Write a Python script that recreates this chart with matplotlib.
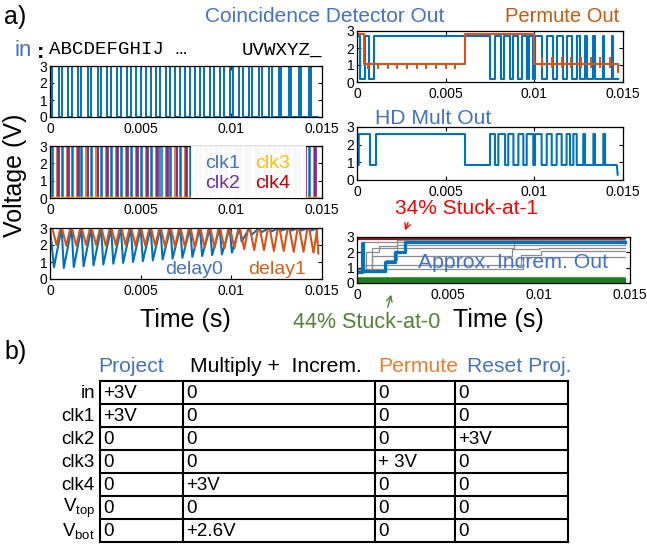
import matplotlib
matplotlib.use('Agg')
import matplotlib.pyplot as plt
from matplotlib.patches import Rectangle

plt.rcParams['font.family'] = ['Liberation Sans', 'DejaVu Sans']

W, H = 647, 544

# ---- data (time in s, voltage in V) ----
# start of each character cycle ("in" pulse rises), 27 chars A..Z + space
cycle_t = [0.00010, 0.00064, 0.00119, 0.00173, 0.00228, 0.00282, 0.00337,
           0.00391, 0.00446, 0.00500, 0.00555, 0.00609, 0.00664, 0.00718,
           0.00773, 0.00827, 0.00882, 0.00936, 0.00991, 0.01045, 0.01100,
           0.01154, 0.01209, 0.01263, 0.01318, 0.01372, 0.01427]
in_width = [0.00040, 0.00038, 0.00037, 0.00036, 0.00035, 0.00034, 0.00033,
            0.00032, 0.00031, 0.00030, 0.00029, 0.00028, 0.00027, 0.00026,
            0.00025, 0.00024, 0.00022, 0.00021, 0.00019, 0.00017, 0.00016,
            0.00015, 0.00014, 0.00013, 0.00012, 0.00012, 0.00012]

# clock pulses inside each cycle: offset from cycle start, width
clk1_pulse = (0.0, 0.00006)
clk4_pulse = (0.00028, 0.00006)
clk2_dip = (0.00034, 0.00005)
clk_box = (0.0078, 0.0141)

# delay lines: minimum voltage reached in each cycle
delay0_min = [0.70, 0.65, 0.70, 0.75, 0.80, 0.85, 0.90, 0.95, 1.00, 1.05,
              1.10, 1.15, 1.20, 1.25, 1.30, 1.35, 1.40, 1.45, 1.55, 2.20,
              2.60, 2.75, 2.80, 2.85, 2.85, 2.85, 2.85]
delay1_min = [2.00, 1.95, 1.95, 2.00, 2.00, 1.95, 2.00, 2.00, 1.95, 1.95,
              1.95, 1.90, 1.90, 1.90, 1.85, 1.85, 1.85, 1.80, 1.80, 1.75,
              1.70, 1.70, 1.65, 1.65, 1.60, 1.60, 1.55]

# coincidence detector out (high intervals)
cd_on = [0.0, 0.00045, 0.00096, 0.0078, 0.0083, 0.0088, 0.0093, 0.0097,
         0.01004, 0.0107, 0.01126, 0.01182, 0.01239, 0.01286, 0.01333,
         0.01389, 0.01436]
cd_off = [0.00017, 0.0007, 0.0075, 0.0081, 0.0086, 0.0091, 0.0096, 0.0099,
          0.01041, 0.01104, 0.01164, 0.01211, 0.01258, 0.01299, 0.01342,
          0.01395, 0.01442]
cd_lo, cd_hi = 0.2, 2.7

# permute out
perm_t = [0.0, 0.0004, 0.0061, 0.0100, 0.0147]
perm_v = [2.8, 1.05, 2.8, 1.05, 1.05]
perm_spk1 = [0.00064, 0.00119, 0.00173, 0.00228, 0.00282, 0.00337, 0.00391,
             0.00446, 0.00500, 0.00555]
perm_spk2 = [0.01045, 0.01100, 0.01154, 0.01209, 0.01263, 0.01318, 0.01372,
             0.01427]

# HD mult out (high intervals)
hd_on = [0.0001, 0.00107, 0.0075, 0.00797, 0.00853, 0.0091, 0.00957,
         0.01004, 0.0107, 0.01126, 0.01182, 0.0122, 0.01276, 0.01333, 0.01389]
hd_off = [0.00073, 0.00609, 0.00778, 0.00835, 0.00882, 0.00938, 0.00994,
          0.01041, 0.01098, 0.01154, 0.01201, 0.01239, 0.01286, 0.01342,
          0.01399]
hd_lo, hd_hi = 0.85, 2.6

# approximate incrementer out
apx_t = [0.0, 0.00028, 0.00035, 0.00155, 0.0021, 0.00265, 0.0147]
apx_v = [0.7, 2.6, 0.8, 1.4, 2.0, 2.65, 2.65]
gray_t = [[0, 0.0003, 0.0092, 0.0147],
          [0, 0.0008, 0.0086, 0.0147],
          [0, 0.0008, 0.0085, 0.0100, 0.0147],
          [0, 0.0003, 0.0090, 0.0101, 0.0147],
          [0, 0.0002, 0.0091, 0.0147],
          [0, 0.0016, 0.0022, 0.0147],
          [0, 0.0005, 0.0012, 0.0022, 0.0147]]
gray_v = [[0.9, 2.7, 2.75, 2.75],
          [0.8, 2.3, 2.8, 2.8],
          [0.85, 1.75, 2.2, 2.3, 2.3],
          [0.75, 1.2, 1.85, 2.1, 2.1],
          [0.8, 0.9, 1.7, 1.7],
          [0.7, 1.5, 2.5, 2.6],
          [0.8, 2.0, 2.4, 2.8, 2.85]]
stuck0_v = [0.03, 0.07, 0.11, 0.15, 0.19, 0.23, 0.27, 0.31, 0.35]
stuck1_v = [2.85, 2.89, 2.93, 2.97]

# table
row_names = ['in', 'clk1', 'clk2', 'clk3', 'clk4',
             r'V$_{\mathregular{top}}$', r'V$_{\mathregular{bot}}$']
col_heads = ['Project', 'Multiply +  Increm.', 'Permute', 'Reset Proj.']
col_project = ['+3V', '+3V', '0', '0', '0', '0', '0']
col_multiply = ['0', '0', '0', '0', '+3V', '0', '+2.6V']
col_permute = ['0', '0', '0', '+ 3V', '0', '0', '0']
col_reset = ['0', '0', '+3V', '0', '0', '0', '0']

BLUE = '#0072BD'
ORANGE = '#D95319'
YELLOW = '#EDB120'
PURPLE = '#7E2F8E'
TBLUE = '#4472C4'


def pulse_train(on, off, lo, hi, t_end):
    t, v = [0.0], [lo]
    for a, b in zip(on, off):
        t += [a, a, b, b]
        v += [lo, hi, hi, lo]
    t.append(t_end)
    v.append(lo)
    return t, v


def add_ax(l, t, r, b):
    return fig.add_axes([l / W, 1 - b / H, (r - l) / W, (b - t) / H])


def style(ax):
    ax.set_xlim(0, 0.015)
    ax.set_ylim(0, 3)
    ax.set_xticks([0, 0.005, 0.01, 0.015])
    ax.set_xticklabels(['0', '0.005', '0.01', '0.015'])
    ax.set_yticks([0, 1, 2, 3])
    ax.tick_params(direction='in', length=3, width=0.8, top=True, right=True,
                   labelsize=10)
    ax.tick_params(axis='x', pad=3.5)
    ax.tick_params(axis='y', pad=2)
    for s in ax.spines.values():
        s.set_linewidth(0.9)


fig = plt.figure(figsize=(W / 100, H / 100), dpi=100)

# ---- in ----
ax1 = add_ax(50, 66, 322, 117)
t, v = pulse_train(cycle_t, [c + w for c, w in zip(cycle_t, in_width)], 0, 3, 0.0148)
ax1.plot(t, v, color=BLUE, lw=1.4)
style(ax1)

# ---- clocks ----
ax2 = add_ax(50, 146, 322, 198)
t, v = pulse_train([c + clk1_pulse[0] for c in cycle_t],
                   [c + clk1_pulse[0] + clk1_pulse[1] for c in cycle_t], 0, 3, 0.0148)
ax2.plot(t, v, color=BLUE, lw=1.1)
t, v = pulse_train([c + clk4_pulse[0] for c in cycle_t],
                   [c + clk4_pulse[0] + clk4_pulse[1] for c in cycle_t], 0, 3, 0.0148)
ax2.plot(t, v, color=ORANGE, lw=1.1)
t, v = pulse_train([c + clk2_dip[0] for c in cycle_t],
                   [c + clk2_dip[0] + clk2_dip[1] for c in cycle_t], 3, 0, 0.0146)
ax2.plot(t + [0.0146], v + [0], color=PURPLE, lw=1.3)
ax2.plot([0, 0.0148], [0, 0], color=YELLOW, lw=2.5)
ax2.add_patch(Rectangle((clk_box[0], 0), clk_box[1] - clk_box[0], 3.02,
                        facecolor='white', edgecolor='none', alpha=0.96, zorder=5))
style(ax2)

# ---- delay lines ----
ax3 = add_ax(50, 228, 322, 279)
t0, v0 = [0.0], [3.0]
t1, v1 = [0.0], [3.0]
ends = cycle_t[1:] + [0.0148]
for c, e, m0, m1 in zip(cycle_t, ends, delay0_min, delay1_min):
    t0 += [c + 0.00012, e]
    v0 += [m0, 3.0]
    t1 += [c + 0.00002, c + 0.00026, c + 0.00048]
    v1 += [3.0, m1, 3.0]
t1 += [0.0147, 0.0148]
v1 += [3.0, 1.5]
ax3.plot(t0, v0, color=BLUE, lw=1.5)
ax3.plot(t1, v1, color=ORANGE, lw=1.5)
style(ax3)

# ---- coincidence detector / permute ----
ax4 = add_ax(357, 31, 623, 82)
t, v = pulse_train(cd_on, cd_off, cd_lo, cd_hi, 0.0147)
ax4.plot(t, v, color=BLUE, lw=1.5)
ax4.step(perm_t + [0.0147], perm_v + [0.6], where='post', color=ORANGE, lw=1.5)
ax4.vlines(perm_spk1, 0.75, 1.05, color=ORANGE, lw=1.4)
ax4.vlines(perm_spk2, 0.8, 1.45, color=ORANGE, lw=1.4)
style(ax4)

# ---- HD mult ----
ax5 = add_ax(357, 127, 623, 180)
t, v = pulse_train(hd_on, hd_off, hd_lo, hd_hi, 0.01465)
ax5.plot(t + [0.0147], v + [0.3], color=BLUE, lw=1.5)
style(ax5)

# ---- approx incrementer ----
ax6 = add_ax(357, 237, 630, 283)
ax6.fill_between([0, 0.0147], 0, 0.37, color='#4fa84f', lw=0)
for y in stuck0_v:
    ax6.plot([0, 0.0147], [y, y], color='#1e7b1e', lw=0.8)
ax6.fill_between([0, 0.0147], 2.83, 3.0, color='#b05050', lw=0)
for y in stuck1_v:
    ax6.plot([0, 0.0147], [y, y], color='#8b1a1a', lw=0.8)
for gt, gv in zip(gray_t, gray_v):
    ax6.step(gt, gv, where='post', color='#8c8c8c', lw=0.9)
ax6.step(apx_t, apx_v, where='post', color=BLUE, lw=2.3)
style(ax6)

# ---- overlay for free text and the table (pixel coordinates) ----
ov = fig.add_axes([0, 0, 1, 1])
ov.set_xlim(0, W)
ov.set_ylim(H, 0)
ov.axis('off')

ov.text(4, 17, 'a)', fontsize=18, va='center')
ov.text(205, 16, 'Coincidence Detector Out', fontsize=15, color=TBLUE, va='center')
ov.text(505, 16, 'Permute Out', fontsize=14.5, color='#C55A11', va='center')
ov.text(15, 50, 'in', fontsize=16, color=TBLUE, va='center')
ov.text(37, 52, ':', fontsize=16, fontweight='bold', va='center')
ov.text(49, 50, 'ABCDEFGHIJ …', fontsize=13.8, va='center',
        family=['Liberation Mono', 'DejaVu Sans Mono'])
ov.text(242, 50, 'UVWXYZ_', fontsize=13.8, va='center',
        family=['Liberation Mono', 'DejaVu Sans Mono'])
ov.text(15, 175, 'Voltage (V)', fontsize=18, rotation=90, ha='center', va='center')
ov.text(185, 320, 'Time (s)', fontsize=18, ha='center', va='center')
ov.text(498, 320, 'Time (s)', fontsize=18, ha='center', va='center')
ov.text(205, 163, 'clk1', fontsize=14, color=TBLUE, va='center')
ov.text(255, 163, 'clk3', fontsize=14, color='#FFC000', va='center')
ov.text(205, 183, 'clk2', fontsize=14, color='#7030A0', va='center')
ov.text(255, 183, 'clk4', fontsize=14, color='#C00000', va='center')
ov.text(165, 269, 'delay0', fontsize=14, color=TBLUE, va='center')
ov.text(248, 269, 'delay1', fontsize=14, color='#D0631F', va='center')
ov.text(375, 118, 'HD Mult Out', fontsize=15.2, color=TBLUE, va='center')
ov.text(395, 209, '34% Stuck-at-1', fontsize=15, color='#FF0000', va='center')
ov.annotate('', xy=(404, 233), xytext=(409, 220),
            arrowprops=dict(arrowstyle='->', color='#FF0000', lw=1))
ov.text(418, 262, 'Approx. Increm. Out', fontsize=15.3, color=TBLUE, va='center')
ov.text(293, 322, '44% Stuck-at-0', fontsize=15.5, color='#548235', va='center')
ov.annotate('', xy=(392, 292), xytext=(387, 310),
            arrowprops=dict(arrowstyle='->', color='#548235', lw=1))

# ---- table ----
ov.text(4, 352, 'b)', fontsize=18, va='center')
col_x = [100, 183, 375, 455, 568]
head_x = [98, 190, 378, 467]
head_c = [TBLUE, 'black', '#ED7D31', TBLUE]
for hx, name, c in zip(head_x, col_heads, head_c):
    ov.text(hx, 366, name, fontsize=15.2, color=c, va='center')
top, rh = 381, 23
n = len(row_names)
for i in range(n + 1):
    ov.plot([col_x[0], col_x[-1]], [top + i * rh] * 2, color='black', lw=1.5,
            solid_capstyle='projecting')
for x in col_x:
    ov.plot([x, x], [top, top + n * rh], color='black', lw=1.5,
            solid_capstyle='projecting')
cols = [col_project, col_multiply, col_permute, col_reset]
for i, name in enumerate(row_names):
    yc = top + i * rh + rh / 2 + 1
    ov.text(95, yc, name, fontsize=13.5, ha='right', va='center')
    for x, col in zip(col_x, cols):
        ov.text(x + 3, yc, col[i], fontsize=13.5, va='center')

fig.savefig('out.png', dpi=100)
